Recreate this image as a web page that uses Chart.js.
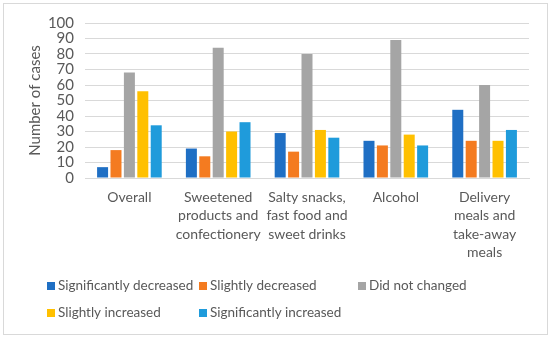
<!DOCTYPE html>
<html>
<head>
<meta charset="utf-8">
<script src="https://cdn.jsdelivr.net/npm/chart.js@4.4.0/dist/chart.umd.min.js"></script>
<style>
html,body{margin:0;padding:0;background:#fff;}
#wrap{position:relative;width:550px;height:339px;}
#frame{position:absolute;left:3px;top:3px;width:545px;height:332px;border:1px solid #d9d9d9;box-sizing:border-box;pointer-events:none;}
canvas{display:block;}
</style>
</head>
<body>
<div id="wrap">
<canvas id="c" width="550" height="339"></canvas>
<div id="frame"></div>
</div>
<script>
const categories = [
  ["Overall"],
  ["Sweetened", "products and", "confectionery"],
  ["Salty snacks,", "fast food and", "sweet drinks"],
  ["Alcohol"],
  ["Delivery", "meals and", "take-away", "meals"]
];
const seriesNames = ["Significantly decreased", "Slightly decreased", "Did not changed", "Slightly increased", "Significantly increased"];
const sigDecreased = [7, 19, 29, 24, 44];
const slightDecreased = [18, 14, 17, 21, 24];
const notChanged = [68, 84, 80, 89, 60];
const slightIncreased = [56, 30, 31, 28, 24];
const sigIncreased = [34, 36, 26, 21, 31];
const yTicks = [0, 10, 20, 30, 40, 50, 60, 70, 80, 90, 100];

const colors = ["#1F6FC4", "#F47B20", "#A5A5A5", "#FFC000", "#1F9BDB"];
const values = [sigDecreased, slightDecreased, notChanged, slightIncreased, sigIncreased];

const FONT = "Lato, 'Open Sans', sans-serif";
const TEXT = "#595959";

const legendPlugin = {
  id: 'gridLegend',
  afterDraw(chart) {
    const ctx = chart.ctx;
    const cols = [47, 199, 358];
    const rows = [286, 313];
    ctx.save();
    ctx.font = "13.5px " + FONT;
    ctx.textBaseline = 'middle';
    ctx.textAlign = 'left';
    chart.data.datasets.forEach((ds, i) => {
      const x = cols[i % 3];
      const y = rows[Math.floor(i / 3)];
      ctx.fillStyle = ds.backgroundColor;
      ctx.fillRect(x, y - 4, 8, 8);
      ctx.fillStyle = TEXT;
      ctx.fillText(ds.label, x + 11, y);
    });
    ctx.restore();
  }
};

new Chart(document.getElementById('c'), {
  type: 'bar',
  data: {
    labels: categories,
    datasets: seriesNames.map((n, i) => ({
      label: n,
      data: values[i],
      backgroundColor: colors[i],
      barPercentage: 0.82,
      categoryPercentage: 0.755
    }))
  },
  options: {
    responsive: false,
    animation: false,
    devicePixelRatio: 1,
    layout: { padding: { left: 4, right: 21, top: 23, bottom: 0 } },
    plugins: {
      legend: { display: false },
      tooltip: { enabled: false }
    },
    scales: {
      x: {
        grid: { display: false, drawTicks: false },
        border: { display: true, color: '#d9d9d9' },
        ticks: {
          color: TEXT,
          font: { family: FONT, size: 14, lineHeight: 1.32 },
          padding: 10,
          maxRotation: 0,
          autoSkip: false
        },
        afterFit(scale) { scale.height = 161; }
      },
      y: {
        min: 0,
        max: 100,
        afterBuildTicks(scale) { scale.ticks = yTicks.map(v => ({ value: v })); },
        grid: { color: '#d9d9d9', drawTicks: false, lineWidth: 1 },
        border: { display: false },
        ticks: {
          color: TEXT,
          font: { family: FONT, size: 15 },
          padding: 11,
          autoSkip: false
        },
        title: {
          display: true,
          text: 'Number of cases',
          color: TEXT,
          font: { family: FONT, size: 15 },
          padding: { top: 22, bottom: 0 }
        },
        afterFit(scale) { scale.width = 81; }
      }
    }
  },
  plugins: [legendPlugin]
});
</script>
</body>
</html>
